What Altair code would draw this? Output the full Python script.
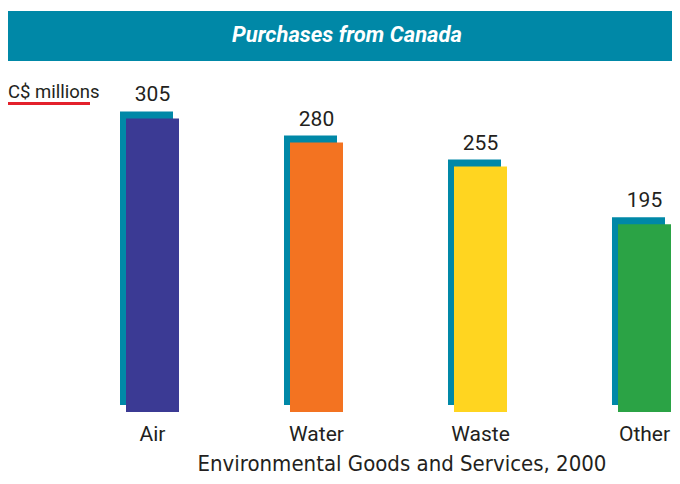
import altair as alt
import pandas as pd

categories = ["Air", "Water", "Waste", "Other"]
values = [305, 280, 255, 195]
colors = ["#3B3A94", "#F37321", "#FFD520", "#2BA345"]
title_text = "Purchases from Canada"
unit_text = "C$ millions"
footer_text = "Environmental Goods and Services, 2000"

TEAL = "#0088A7"
FONT = "Roboto, Lato, sans-serif"
TXT = "#231F20"

df = pd.DataFrame({"cat": categories, "val": values, "color": colors})

W, H = 664, 468
xs = alt.Scale(domain=categories, range=[118, 663], paddingInner=0.6768, paddingOuter=0)
ys = alt.Scale(domain=[0, 400], range=[404, 19])

x = alt.X("cat:N", scale=xs, axis=None)
y = alt.Y("val:Q", scale=ys, axis=None)

shadow = alt.Chart(df).mark_bar(color=TEAL, xOffset=-6, x2Offset=-6, yOffset=-7, y2Offset=-5).encode(
    x=x, y=y)
bars = alt.Chart(df).mark_bar().encode(
    x=x, y=y, color=alt.Color("color:N", scale=None))
labels = alt.Chart(df).mark_text(font=FONT, fontSize=21, color=TXT, baseline="alphabetic", dy=-17).encode(
    x=x, y=y, text=alt.Text("val:Q"))
cats = alt.Chart(df).mark_text(font=FONT, fontSize=21, color=TXT, baseline="alphabetic").encode(
    x=x, y=alt.value(433), text="cat:N")

banner = alt.Chart(df).mark_rect(color=TEAL).encode(
    x=alt.value(0), x2=alt.value(W), y=alt.value(3), y2=alt.value(53))
title = alt.Chart(pd.DataFrame({"t": [title_text]})).mark_text(
    font=FONT, fontSize=22, fontWeight="bold", fontStyle="italic", color="white",
    baseline="alphabetic").encode(
    x=alt.value(339), y=alt.value(34), text="t:N")
unit = alt.Chart(pd.DataFrame({"t": [unit_text]})).mark_text(
    font=FONT, fontSize=18.5, color=TXT, align="left", baseline="alphabetic").encode(
    x=alt.value(0), y=alt.value(90), text="t:N")
underline = alt.Chart(df).mark_rule(color="#E3202B", strokeWidth=3).encode(
    x=alt.value(0), x2=alt.value(82), y=alt.value(95.5))
footer = alt.Chart(pd.DataFrame({"t": [footer_text]})).mark_text(
    font="DejaVu Sans Condensed, DejaVu Sans, sans-serif", fontSize=22, color=TXT,
    baseline="alphabetic").encode(
    x=alt.value(394), y=alt.value(463), text="t:N")

chart = alt.layer(banner, title, unit, underline, shadow, bars, labels, cats, footer).properties(
    width=W, height=H, padding=0, autosize=alt.AutoSizeParams(type="none"),
    background="white"
).configure_view(stroke=None)

chart.save("out.html", embed_options={"renderer": "svg", "actions": False})
